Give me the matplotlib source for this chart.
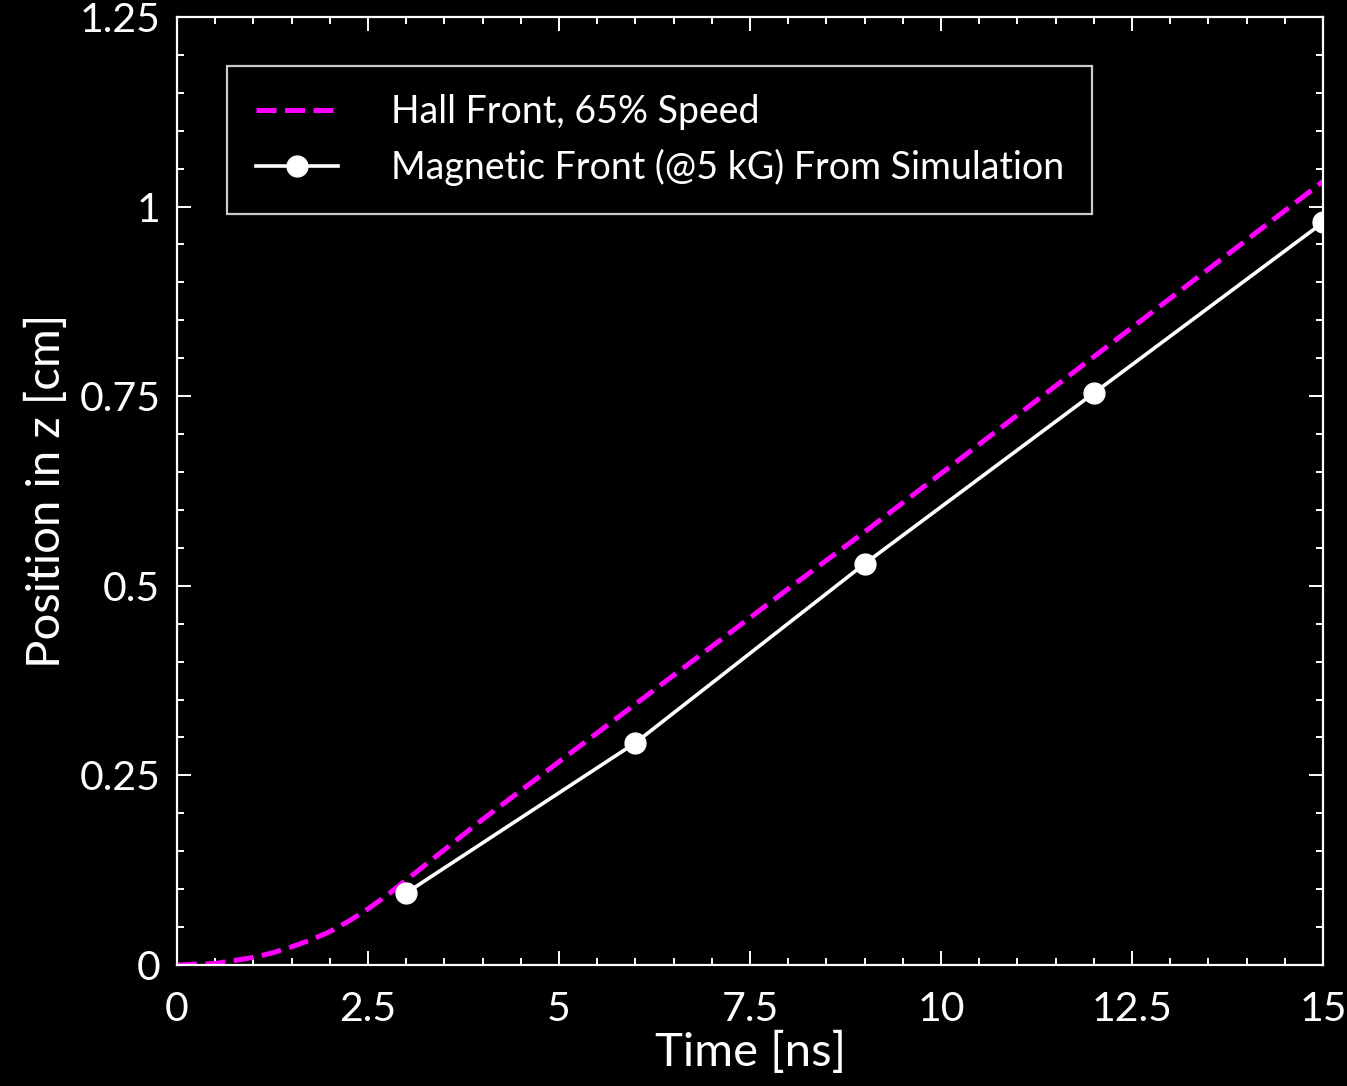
import matplotlib
matplotlib.use("Agg")
import matplotlib.pyplot as plt
from matplotlib.ticker import MultipleLocator

# Hall front (65% speed)
hall_t = [0, 0.5, 1, 1.25, 1.5, 1.75, 2, 2.25, 2.5, 2.75, 3, 3.25, 3.5, 4,
          5, 6, 7, 8, 9, 10, 11, 12, 13, 14, 15]
hall_z = [0, 0.002, 0.010, 0.016, 0.024, 0.033, 0.044, 0.058, 0.074, 0.092,
          0.112, 0.132, 0.152, 0.192, 0.268, 0.344, 0.420, 0.496, 0.571,
          0.648, 0.725, 0.802, 0.879, 0.956, 1.033]

# magnetic front from simulation
sim_t = [3, 6, 9, 12, 15]
sim_z = [0.095, 0.293, 0.529, 0.754, 0.979]

xticks = [0, 2.5, 5, 7.5, 10, 12.5, 15]
xlabels = ['0', '2.5', '5', '7.5', '10', '12.5', '15']
yticks = [0, 0.25, 0.5, 0.75, 1, 1.25]
ylabels = ['0', '0.25', '0.5', '0.75', '1', '1.25']

plt.rcParams['font.family'] = ['Lato', 'DejaVu Sans']

fig = plt.figure(figsize=(13.47, 10.86), dpi=100, facecolor='black')
ax = fig.add_axes([0.1314, 0.1114, 0.8508, 0.873])
ax.set_facecolor('black')

ax.plot(hall_t, hall_z, color='#ff00ff', lw=3.6, dashes=(4, 1.7),
        label='Hall Front, 65% Speed')
ax.plot(sim_t, sim_z, color='white', lw=2.6, marker='o', ms=15,
        label='Magnetic Front (@5 kG) From Simulation')

ax.set_xlim(0, 15)
ax.set_ylim(0, 1.25)
ax.set_xticks(xticks)
ax.set_xticklabels(xlabels)
ax.set_yticks(yticks)
ax.set_yticklabels(ylabels)
ax.xaxis.set_minor_locator(MultipleLocator(0.5))
ax.yaxis.set_minor_locator(MultipleLocator(0.05))

for s in ax.spines.values():
    s.set_color('white')
    s.set_linewidth(1.6)
ax.tick_params(which='both', direction='in', top=True, right=True,
               colors='white', width=1.4, labelsize=29.5)
ax.tick_params(axis='x', pad=19)
ax.tick_params(axis='y', pad=12)
ax.tick_params(which='major', length=10)
ax.tick_params(which='minor', length=5)

ax.set_xlabel('Time [ns]', color='white', fontsize=34, labelpad=2)
ax.set_ylabel('Position in z [cm]', color='white', fontsize=34, labelpad=8)

leg = ax.legend(loc='upper left', bbox_to_anchor=(0.044, 0.948), fontsize=27,
                frameon=True, fancybox=False, facecolor='black',
                edgecolor='white', handlelength=2.2, handletextpad=1.4,
                borderpad=0.75, labelspacing=0.5, borderaxespad=0)
leg.get_frame().set_linewidth(1.6)
for t in leg.get_texts():
    t.set_color('white')

fig.savefig('out.png', dpi=100, facecolor='black')
